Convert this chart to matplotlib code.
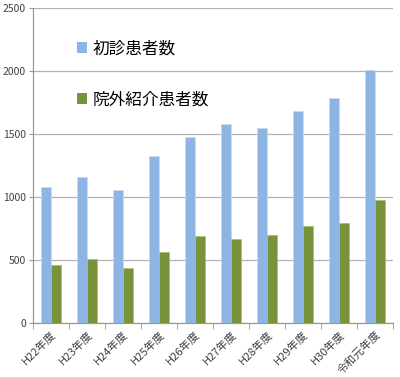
import matplotlib
matplotlib.use("Agg")
import matplotlib.pyplot as plt
import numpy as np
from matplotlib.patches import Patch

plt.rcParams['font.family'] = ['Noto Sans CJK JP', 'DejaVu Sans']

# データ
categories = ['H22年度', 'H23年度', 'H24年度', 'H25年度', 'H26年度',
              'H27年度', 'H28年度', 'H29年度', 'H30年度', '令和元年度']
first_visit = [1080, 1163, 1058, 1328, 1481, 1581, 1550, 1684, 1787, 2007]
referral = [464, 509, 440, 564, 693, 670, 704, 775, 797, 979]
series_names = ['初診患者数', '院外紹介患者数']

blue = '#8EB4E3'
green = '#77933C'

fig = plt.figure(figsize=(4.0, 3.77), dpi=100)
ax = fig.add_axes([0.0825, 0.142, 0.9, 0.837])

x = np.arange(len(categories))
w = 0.28
ax.bar(x - w / 2, first_visit, w, color=blue, edgecolor='#C6DAF1', linewidth=0.6, zorder=3)
ax.bar(x + w / 2, referral, w, color=green, edgecolor='#A9C27A', linewidth=0.6, zorder=3)

ax.set_xlim(-0.5, len(categories) - 0.5)
ax.set_ylim(0, 2500)
ax.set_yticks(np.arange(0, 2501, 500))
ax.yaxis.grid(True, color='#B3B3B3', linewidth=0.9, zorder=0)

ax.set_xticks(x)
ax.set_xticklabels(categories, rotation=45, ha='right', rotation_mode='anchor',
                   fontsize=8, color='#404040')
ax.set_xticks(np.arange(-0.5, len(categories)), minor=True)
ax.tick_params(axis='x', which='major', length=0, pad=4)
ax.tick_params(axis='x', which='minor', length=4, color='#999999')
ax.tick_params(axis='y', labelsize=7.5, labelcolor='#404040', length=3, color='#999999', pad=2)

for s in ['top', 'right']:
    ax.spines[s].set_visible(False)
for s in ['left', 'bottom']:
    ax.spines[s].set_color('#999999')
    ax.spines[s].set_linewidth(0.9)

handles = [Patch(facecolor=blue), Patch(facecolor=green)]
ax.legend(handles, series_names, loc='upper left', bbox_to_anchor=(0.08, 0.945),
          frameon=False, fontsize=12, labelspacing=2.05,
          handlelength=0.6, handleheight=0.6, handletextpad=0.35)

fig.savefig('out.png', dpi=100)
